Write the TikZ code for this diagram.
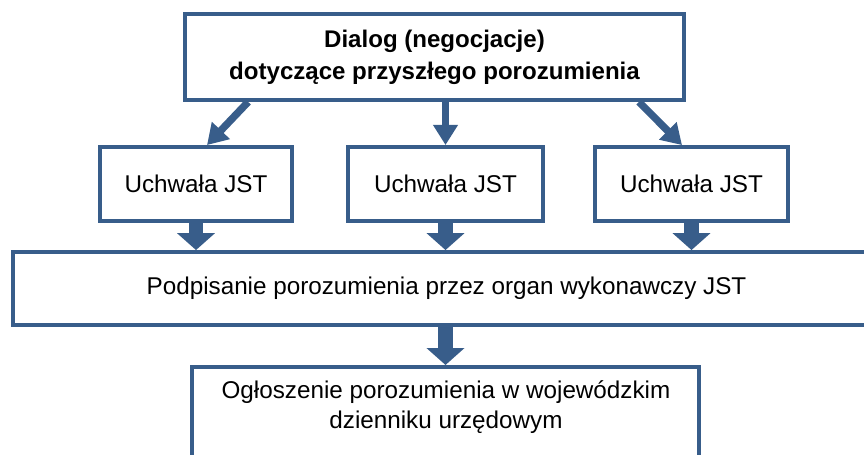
\documentclass[tikz,border=0pt]{standalone}
\usepackage{fontspec}
\setmainfont{Liberation Sans}
\usetikzlibrary{arrows.meta}

\definecolor{frame}{RGB}{56,93,138}

\begin{document}
\begin{tikzpicture}[x=0.02cm, y=-0.02cm]
\tikzset{
  box/.style={draw=frame, line width=2.2pt, rectangle, inner sep=0pt, align=center,
    font=\fontsize{13.8}{17.5}\selectfont},
  thinarrow/.style={draw=frame, line width=4.2pt, -{Triangle[length=11.5pt, width=13.5pt]}},
  blockarrow/.style={draw=frame, line width=8.2pt, -{Triangle[length=9.6pt, width=21pt]}}
}
\path[use as bounding box, clip] (0, 0) rectangle (864, 455);

\node (dialog) at (434.5, 57) [box, minimum width=9.98cm, minimum height=1.72cm,
  font=\fontsize{13.7}{18.2}\selectfont\bfseries]
  {Dialog (negocjacje)\\dotyczące przyszłego porozumienia};

\node (u1) at (196, 184) [box, minimum width=3.84cm, minimum height=1.48cm] {Uchwała JST};
\node (u2) at (445.5, 184) [box, minimum width=3.9cm, minimum height=1.48cm] {Uchwała JST};
\node (u3) at (691.5, 184) [box, minimum width=3.86cm, minimum height=1.48cm] {Uchwała JST};

\node (podp) at (446.5, 288.5) [box, minimum width=17.34cm, minimum height=1.46cm]
  {Podpisanie porozumienia przez organ wykonawczy JST};

\node (ogl) at (445.5, 365) [box, anchor=north, minimum width=10.14cm, minimum height=2.6cm] {};
\node (oglText) at (446, 407) [align=center, font=\fontsize{13.8}{17.5}\selectfont]
  {Ogłoszenie porozumienia w wojewódzkim\\dzienniku urzędowym};

\draw[thinarrow] ([xshift=1.3cm]dialog.south west) -- ([xshift=0.22cm]u1.north);
\draw[thinarrow] (dialog.south -| u2.north) -- (u2.north);
\draw[thinarrow] ([xshift=-0.94cm]dialog.south east) -- ([xshift=-0.19cm]u3.north);

\draw[blockarrow] (u1.south) -- (u1.south |- podp.north);
\draw[blockarrow] (u2.south) -- (u2.south |- podp.north);
\draw[blockarrow] (u3.south) -- (u3.south |- podp.north);
\draw[blockarrow] (podp.south -| ogl.north) -- (ogl.north);
\end{tikzpicture}
\end{document}
